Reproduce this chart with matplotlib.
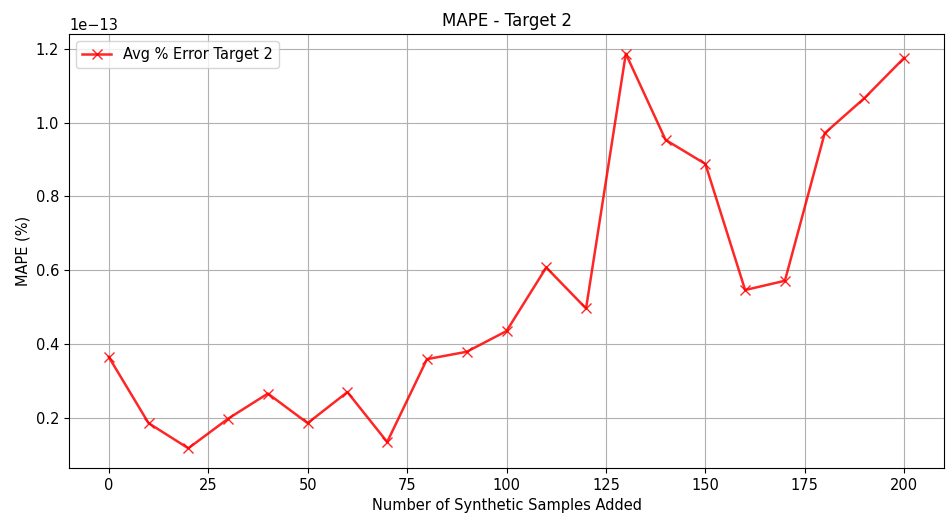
import matplotlib
matplotlib.use("Agg")
import matplotlib.pyplot as plt
import numpy as np

samples_added = [0, 10, 20, 30, 40, 50, 60, 70, 80, 90, 100,
                 110, 120, 130, 140, 150, 160, 170, 180, 190, 200]
mape_target2 = np.array([0.366, 0.187, 0.119, 0.199, 0.267, 0.187, 0.271, 0.136, 0.360, 0.380, 0.436,
                         0.608, 0.497, 1.186, 0.953, 0.888, 0.547, 0.572, 0.971, 1.066, 1.175]) * 1e-13

plt.rcParams['font.size'] = 10.5

fig, ax = plt.subplots(figsize=(9.48, 5.17), dpi=100)
fig.subplots_adjust(left=69/948, right=944/948, top=1-34/517, bottom=1-468/517)

ax.plot(samples_added, mape_target2, color='red', marker='x', markersize=7,
        linewidth=1.8, alpha=0.85, label='Avg % Error Target 2')
ax.set_title('MAPE - Target 2', fontsize=12)
ax.set_xlabel('Number of Synthetic Samples Added')
ax.set_ylabel('MAPE (%)')
ax.grid(True)
ax.legend(loc='upper left')

fig.savefig('out.png', dpi=100)
